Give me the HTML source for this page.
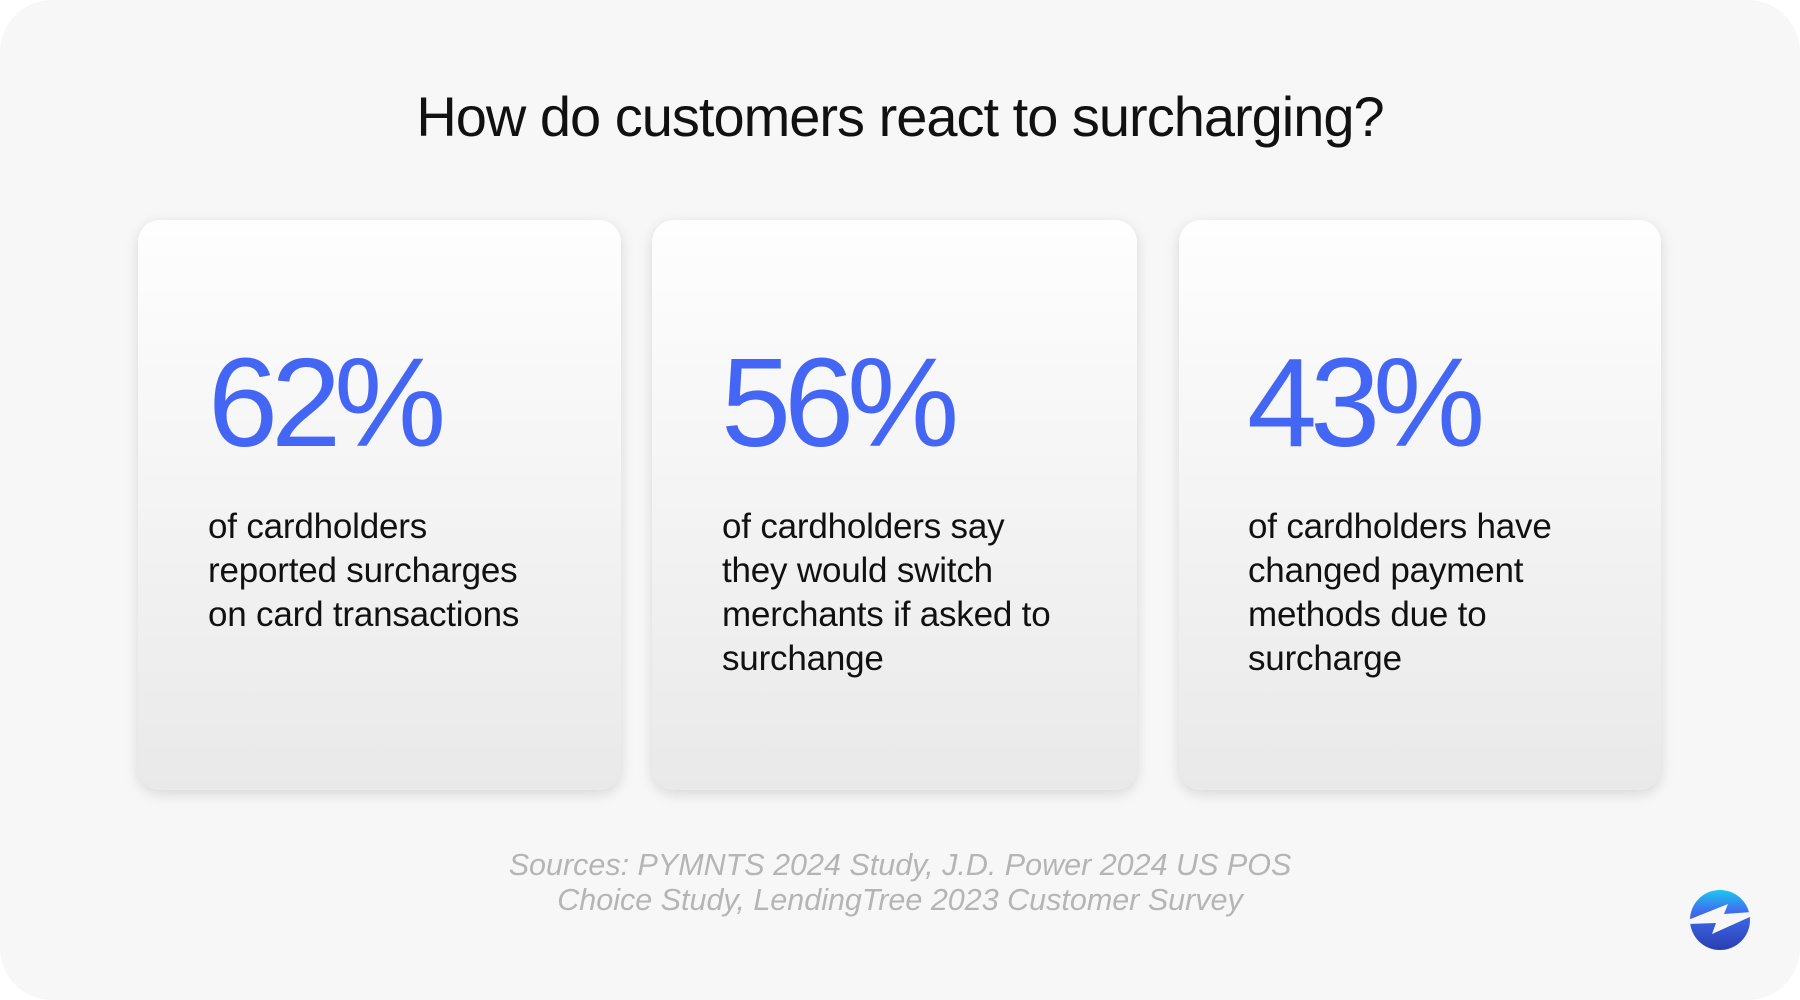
<!DOCTYPE html>
<html><head><meta charset="utf-8"><style>
html,body{margin:0;padding:0;background:#fff;}
body{width:1800px;height:1000px;position:relative;overflow:hidden;font-family:"Liberation Sans",sans-serif;}
.bg{position:absolute;left:0;top:0;width:1800px;height:1000px;background:#f7f7f7;border-radius:52px;}
.title{position:absolute;left:0;width:1800px;top:84px;text-align:center;font-size:56px;color:#111;letter-spacing:-1px;}
.card{position:absolute;top:220px;height:570px;border-radius:22px;background:linear-gradient(#fefefe,#e9e9e9);box-shadow:0 4px 14px rgba(0,0,0,0.13);}
.num{position:absolute;top:338px;font-size:126px;color:#4466f5;letter-spacing:-7px;line-height:130px;}
.txt{position:absolute;top:505px;font-size:35px;line-height:44px;color:#111;letter-spacing:-0.2px;}
.src{position:absolute;left:0;width:1800px;top:848px;text-align:center;font-size:30.5px;line-height:35px;color:#b5b5b5;font-style:italic;}
</style></head><body>
<div class="bg"></div>
<div class="title">How do customers react to surcharging?</div>
<div class="card" style="left:138px;width:483px"></div>
<div class="card" style="left:652px;width:485px"></div>
<div class="card" style="left:1179px;width:482px"></div>
<div class="num" style="left:208px">62%</div>
<div class="num" style="left:721px">56%</div>
<div class="num" style="left:1247px">43%</div>
<div class="txt" style="left:208px">of cardholders<br>reported surcharges<br>on card transactions</div>
<div class="txt" style="left:722px">of cardholders say<br>they would switch<br>merchants if asked to<br>surchange</div>
<div class="txt" style="left:1248px">of cardholders have<br>changed payment<br>methods due to<br>surcharge</div>
<div class="src">Sources: PYMNTS 2024 Study, J.D. Power 2024 US POS<br>Choice Study, LendingTree 2023 Customer Survey</div>
<svg style="position:absolute;left:1688px;top:888px" width="64" height="64" viewBox="0 0 64 64">
<defs><linearGradient id="g" x1="0" y1="0" x2="0" y2="1"><stop offset="0" stop-color="#1cc8f0"/><stop offset="0.35" stop-color="#3f6ef0"/><stop offset="1" stop-color="#2a3fb0"/></linearGradient></defs>
<circle cx="32" cy="32" r="30" fill="url(#g)"/>
<polygon points="0,32 40,16 36,26 64,24 64,28 24,46 28,35 0,36" fill="#f7f7f7"/>
</svg>
</body></html>
